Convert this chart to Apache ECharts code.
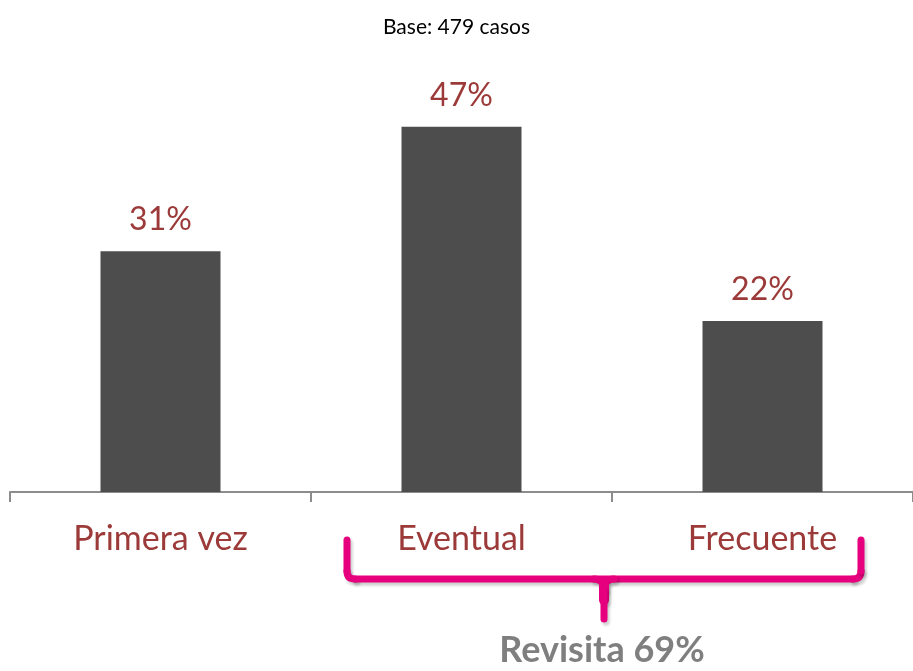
<!DOCTYPE html>
<html>
<head>
<meta charset="utf-8">
<script src="https://cdn.jsdelivr.net/npm/echarts@6/dist/echarts.min.js"></script>
<style>
  html, body { margin: 0; padding: 0; background: #fff; }
  #chart { width: 913px; height: 671px; }
</style>
</head>
<body>
<div id="chart"></div>
<script>
const categories = ['Primera vez', 'Eventual', 'Frecuente']
const values = [31, 47, 22]
const titleText = 'Base: 479 casos'
const braceText = 'Revisita 69%'

const labelColor = '#9b3a38'
const font = 'Lato, "Open Sans", sans-serif'

const myChart = echarts.init(document.getElementById('chart'))

// llave magenta bajo Eventual + Frecuente
const braceStyle = () => ({
  stroke: '#e6007e',
  lineWidth: 7,
  lineCap: 'round',
  lineJoin: 'round',
  fill: null,
  shadowBlur: 3,
  shadowOffsetX: 2,
  shadowOffsetY: 3,
  shadowColor: 'rgba(0,0,0,0.2)'
})
const line = (x1, y1, x2, y2, w) => {
  const s = braceStyle()
  if (w) s.lineWidth = w
  return { type: 'line', shape: { x1, y1, x2, y2 }, style: s }
}
const curve = (x1, y1, cpx1, cpy1, x2, y2) => ({
  type: 'bezierCurve',
  shape: { x1, y1, cpx1, cpy1, x2, y2 },
  style: braceStyle()
})

const option = {
  animation: false,
  title: {
    text: titleText,
    left: 'center',
    top: 12,
    textStyle: {
      fontFamily: font,
      fontSize: 21,
      fontWeight: 'normal',
      color: '#000'
    }
  },
  grid: {
    left: 10,
    right: 0,
    top: 103.5,
    bottom: 179
  },
  xAxis: {
    type: 'category',
    data: categories,
    axisLine: {
      lineStyle: { color: '#8c8c8c', width: 2 }
    },
    axisTick: {
      show: true,
      length: 10,
      lineStyle: { color: '#8c8c8c', width: 2 }
    },
    axisLabel: {
      margin: 30,
      fontFamily: font,
      fontSize: 34,
      color: labelColor
    }
  },
  yAxis: {
    type: 'value',
    min: 0,
    max: 50,
    show: false,
    splitLine: { show: false }
  },
  series: [
    {
      type: 'bar',
      data: values,
      barWidth: 120,
      itemStyle: { color: '#4d4d4d' },
      label: {
        show: true,
        position: 'top',
        distance: 15,
        formatter: '{c}%',
        fontFamily: font,
        fontSize: 32,
        color: labelColor
      }
    }
  ],
  graphic: [
    line(347, 540, 347, 571),
    curve(347, 571, 347, 579, 355, 579),
    line(355, 579, 853, 579),
    curve(853, 579, 861, 579, 861, 571),
    line(861, 571, 861, 540),
    curve(594, 579, 604, 579, 604, 590),
    curve(614, 579, 604, 579, 604, 590),
    line(604, 584, 604, 600, 10),
    line(604, 590, 604, 619),
    {
      type: 'text',
      x: 602,
      y: 650,
      style: {
        text: braceText,
        align: 'center',
        verticalAlign: 'middle',
        fontFamily: font,
        fontSize: 36,
        fontWeight: 'bold',
        fill: '#7f7f7f'
      }
    }
  ]
}

myChart.setOption(option)
</script>
</body>
</html>
